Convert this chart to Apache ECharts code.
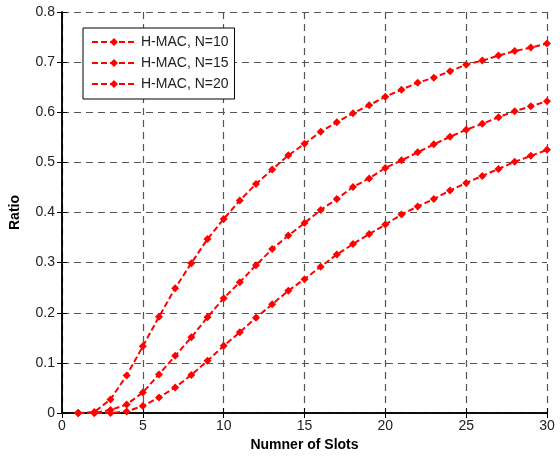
<!DOCTYPE html>
<html>
<head>
<meta charset="utf-8">
<script src="https://cdn.jsdelivr.net/npm/echarts@6/dist/echarts.min.js"></script>
<style>
  html, body { margin: 0; padding: 0; background: #fff; }
  #chart { width: 560px; height: 457px; }
</style>
</head>
<body>
<div id="chart"></div>
<script>
const slots = [1, 2, 3, 4, 5, 6, 7, 8, 9, 10, 11, 12, 13, 14, 15, 16, 17, 18, 19, 20, 21, 22, 23, 24, 25, 26, 27, 28, 29, 30]
const ratioN10 = [0, 0.002, 0.027, 0.075, 0.133, 0.192, 0.249, 0.299, 0.347, 0.387, 0.424, 0.457, 0.486, 0.514, 0.537, 0.561, 0.58, 0.598, 0.614, 0.631, 0.645, 0.659, 0.669, 0.682, 0.695, 0.703, 0.713, 0.722, 0.729, 0.737]
const ratioN15 = [0, 0, 0.006, 0.017, 0.041, 0.077, 0.114, 0.151, 0.191, 0.229, 0.261, 0.295, 0.327, 0.354, 0.379, 0.405, 0.427, 0.451, 0.468, 0.489, 0.504, 0.52, 0.536, 0.551, 0.565, 0.577, 0.59, 0.602, 0.612, 0.622]
const ratioN20 = [0, 0, 0, 0.003, 0.014, 0.031, 0.051, 0.076, 0.104, 0.134, 0.161, 0.19, 0.217, 0.244, 0.267, 0.292, 0.316, 0.337, 0.357, 0.376, 0.396, 0.412, 0.427, 0.444, 0.459, 0.473, 0.487, 0.501, 0.513, 0.525]
const seriesNames = ['H-MAC, N=10', 'H-MAC, N=15', 'H-MAC, N=20']

const font = 'Liberation Sans, Arial, sans-serif'
const chart = echarts.init(document.getElementById('chart'))

function makeSeries(name, values) {
  return {
    name: name,
    type: 'line',
    data: slots.map((s, i) => [s, values[i]]),
    symbol: 'diamond',
    symbolSize: 8,
    lineStyle: { color: '#ff0000', width: 2, type: [6, 3] },
    itemStyle: { color: '#ff0000' },
    z: 5
  }
}

chart.setOption({
  animation: false,
  textStyle: { fontFamily: font },
  grid: { left: 62, right: 13, top: 12, bottom: 44 },
  legend: {
    orient: 'vertical',
    left: 83,
    top: 28,
    data: seriesNames,
    itemWidth: 44,
    itemHeight: 10,
    itemGap: 7,
    padding: [7, 6, 8, 8],
    backgroundColor: '#fff',
    borderColor: '#000',
    borderWidth: 1,
    borderRadius: 0,
    textStyle: { fontSize: 14, color: '#222', fontFamily: font }
  },
  xAxis: [{
    type: 'value',
    min: 0,
    max: 30,
    interval: 5,
    name: 'Numner of Slots',
    nameLocation: 'middle',
    nameGap: 25,
    nameTextStyle: { fontWeight: 'bold', fontSize: 14, color: '#000' },
    axisLine: { lineStyle: { color: '#000', width: 1.5 } },
    axisTick: { inside: true, length: 5, lineStyle: { color: '#000' } },
    axisLabel: { fontSize: 14, color: '#222', margin: 6 },
    splitLine: { show: true, lineStyle: { color: '#555', type: [7, 5], width: 1.2 } }
  }, {
    type: 'value',
    position: 'top',
    min: 0,
    max: 30,
    interval: 5,
    axisLine: { lineStyle: { color: '#000', width: 1.5 } },
    axisTick: { inside: true, length: 5, lineStyle: { color: '#000' } },
    axisLabel: { show: false },
    splitLine: { show: false }
  }],
  yAxis: [{
    type: 'value',
    min: 0,
    max: 0.8,
    interval: 0.1,
    name: 'Ratio',
    nameLocation: 'middle',
    nameGap: 40,
    nameTextStyle: { fontWeight: 'bold', fontSize: 14, color: '#000' },
    axisLine: { show: true, lineStyle: { color: '#000', width: 1.5 } },
    axisTick: { show: true, inside: true, length: 5, lineStyle: { color: '#000' } },
    axisLabel: { fontSize: 14, color: '#222', margin: 7, formatter: v => String(Math.round(v * 10) / 10) },
    splitLine: { show: true, lineStyle: { color: '#555', type: [7, 5], width: 1.2 } }
  }, {
    type: 'value',
    position: 'right',
    min: 0,
    max: 0.8,
    interval: 0.1,
    axisLine: { show: true, lineStyle: { color: '#000', width: 1.5 } },
    axisTick: { show: true, inside: true, length: 5, lineStyle: { color: '#000' } },
    axisLabel: { show: false },
    splitLine: { show: false }
  }],
  series: [
    makeSeries(seriesNames[0], ratioN10),
    makeSeries(seriesNames[1], ratioN15),
    makeSeries(seriesNames[2], ratioN20)
  ]
})
</script>
</body>
</html>
